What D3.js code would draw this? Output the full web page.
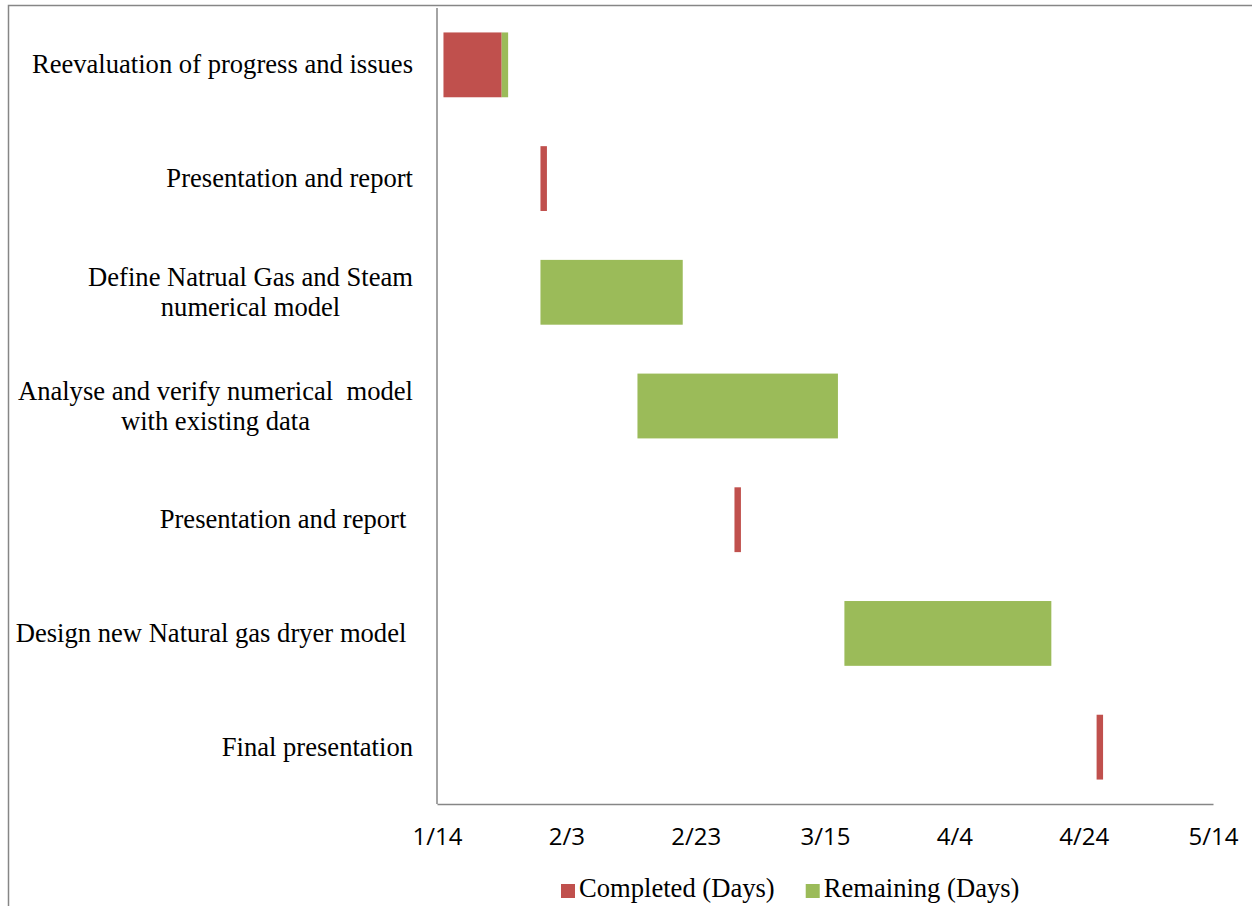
<!DOCTYPE html>
<html>
<head>
<meta charset="utf-8">
<script src="https://cdn.jsdelivr.net/npm/d3@7"></script>
<style>
  html, body { margin: 0; padding: 0; background: #fff; }
  svg { display: block; }
  .lbl { font-family: "Liberation Serif", "Times New Roman", serif; font-size: 26.6px; fill: #000; white-space: pre; }
  .leg { font-family: "Liberation Serif", "Times New Roman", serif; font-size: 26.6px; fill: #000; white-space: pre; }
  .tick text { font-family: "Open Sans", "Noto Sans", sans-serif; font-size: 24px; fill: #000; }
</style>
</head>
<body>
<svg id="chart" width="1252" height="906"></svg>
<script>
// ---- data ----
const tasks = [
  ["Reevaluation of progress and issues"],
  ["Presentation and report"],
  ["Define Natrual Gas and Steam", "numerical model"],
  ["Analyse and verify numerical  model", "with existing data"],
  ["Presentation and report "],
  ["Design new Natural gas dryer model "],
  ["Final presentation"]
];
const startDates = ["2013-01-15", "2013-01-30", "2013-01-30", "2013-02-14", "2013-03-01", "2013-03-18", "2013-04-26"];
const completedDays = [9, 1, 0, 0, 1, 0, 1];
const remainingDays = [1, 0, 22, 31, 0, 32, 0];
const tickDates = ["2013-01-14", "2013-02-03", "2013-02-23", "2013-03-15", "2013-04-04", "2013-04-24", "2013-05-14"];
const seriesNames = ["Completed (Days)", "Remaining (Days)"];
const seriesColors = ["#C0504D", "#9BBB59"];

// ---- layout ----
const svg = d3.select("#chart");
const plot = { left: 437, right: 1213, top: 8, bottom: 804 };
const DAY = 864e5;
const parse = d3.utcParse("%Y-%m-%d");

// chart area border
svg.append("rect").attr("x", 8.5).attr("y", 5.5).attr("width", 1300).attr("height", 1000)
  .attr("fill", "none").attr("stroke", "#868686").attr("stroke-width", 1.5);

const x = d3.scaleUtc()
  .domain([parse(tickDates[0]), parse(tickDates[tickDates.length - 1])])
  .range([plot.left, plot.right]);

const idx = d3.range(tasks.length);
const y = d3.scaleBand().domain(idx).range([plot.top, plot.bottom])
  .paddingInner(0.43).paddingOuter(0.215);

// bars
const rows = idx.map(i => {
  const s = parse(startDates[i]);
  const c = new Date(+s + completedDays[i] * DAY);
  const r = new Date(+c + remainingDays[i] * DAY);
  return { i, s, c, r };
});
const g = svg.append("g");
g.selectAll("rect.comp").data(rows.filter(d => completedDays[d.i] > 0)).join("rect")
  .attr("class", "comp")
  .attr("x", d => x(d.s)).attr("width", d => x(d.c) - x(d.s))
  .attr("y", d => y(d.i)).attr("height", y.bandwidth())
  .attr("fill", seriesColors[0]);
g.selectAll("rect.rem").data(rows.filter(d => remainingDays[d.i] > 0)).join("rect")
  .attr("class", "rem")
  .attr("x", d => x(d.c)).attr("width", d => x(d.r) - x(d.c))
  .attr("y", d => y(d.i)).attr("height", y.bandwidth())
  .attr("fill", seriesColors[1]);

// axes
const xAxis = d3.axisBottom(x).tickValues(tickDates.map(parse))
  .tickFormat(d3.utcFormat("%-m/%-d")).tickSize(0).tickPadding(24);
const xg = svg.append("g").attr("transform", `translate(0,${plot.bottom})`).call(xAxis);
xg.select(".domain").attr("stroke", "#868686").attr("stroke-width", 1.5);

svg.append("line").attr("x1", plot.left).attr("x2", plot.left)
  .attr("y1", plot.top).attr("y2", plot.bottom)
  .attr("stroke", "#868686").attr("stroke-width", 1.5);

// category labels
const labelRight = 413;
const lineH = 30;
idx.forEach(i => {
  const lines = tasks[i];
  const cy = y(i) + y.bandwidth() / 2;
  const t = svg.append("text").attr("class", "lbl");
  const spans = lines.map((ln, k) => t.append("tspan")
    .attr("y", cy + 8.5 + (k - (lines.length - 1) / 2) * lineH).text(ln));
  const widths = spans.map(s => s.node().getComputedTextLength());
  const maxW = d3.max(widths);
  if (lines.length === 1) {
    spans[0].attr("x", labelRight).attr("text-anchor", "end");
  } else {
    spans.forEach(s => s.attr("x", labelRight - maxW / 2).attr("text-anchor", "middle"));
  }
});

// legend
const leg = svg.append("g");
let lx = 561;
seriesNames.forEach((name, k) => {
  leg.append("rect").attr("x", lx).attr("y", 884).attr("width", 14).attr("height", 14)
    .attr("fill", seriesColors[k]);
  const t = leg.append("text").attr("class", "leg").attr("x", lx + 18).attr("y", 897).text(name);
  lx = lx + 18 + t.node().getComputedTextLength() + 31;
});
</script>
</body>
</html>
